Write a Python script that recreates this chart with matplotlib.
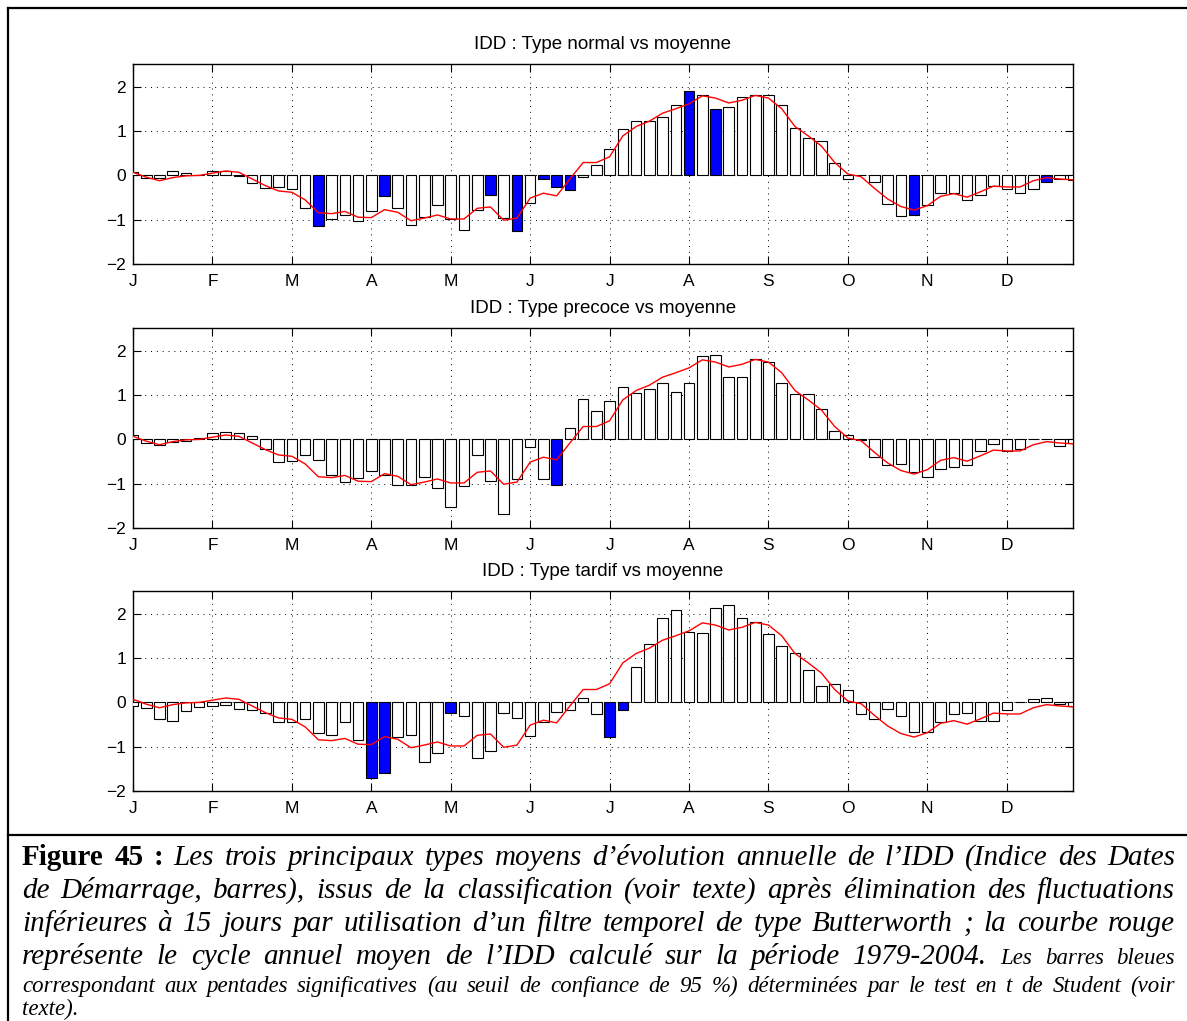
import numpy as np
import matplotlib
matplotlib.use("Agg")
import matplotlib.pyplot as plt
from matplotlib.lines import Line2D

# pentad values (72 pentads, Jan -> Dec)
normal = [0.08, -0.06, -0.06, 0.09, 0.05, 0.01, 0.11, 0.10, -0.02, -0.17,
          -0.28, -0.26, -0.30, -0.74, -1.13, -0.98, -0.88, -1.03, -0.81, -0.47,
          -0.74, -1.12, -0.94, -0.67, -0.98, -1.22, -0.77, -0.44, -0.95, -1.25,
          -0.62, -0.08, -0.25, -0.33, -0.04, 0.24, 0.60, 1.04, 1.23, 1.23,
          1.31, 1.58, 1.89, 1.81, 1.50, 1.55, 1.77, 1.81, 1.80, 1.58,
          1.07, 0.85, 0.77, 0.28, -0.08, 0.02, -0.14, -0.65, -0.91, -0.89,
          -0.67, -0.39, -0.39, -0.56, -0.44, -0.23, -0.30, -0.40, -0.30, -0.14,
          -0.08, -0.10]
precoce = [0.10, -0.08, -0.12, -0.05, -0.04, 0.04, 0.15, 0.17, 0.15, 0.08,
           -0.22, -0.50, -0.48, -0.35, -0.47, -0.79, -0.95, -0.87, -0.71, -0.79,
           -1.03, -1.02, -0.84, -1.10, -1.51, -1.05, -0.35, -0.93, -1.67, -0.89,
           -0.18, -0.89, -1.02, 0.26, 0.90, 0.65, 0.86, 1.18, 1.05, 1.13,
           1.27, 1.07, 1.26, 1.88, 1.91, 1.41, 1.41, 1.81, 1.74, 1.26,
           1.02, 1.02, 0.68, 0.20, 0.09, -0.01, -0.40, -0.58, -0.55, -0.74,
           -0.84, -0.66, -0.62, -0.58, -0.26, -0.11, -0.26, -0.22, 0.02, 0.0,
           -0.14, -0.08]
tardif = [-0.08, -0.12, -0.38, -0.41, -0.19, -0.10, -0.08, -0.06, -0.15, -0.17,
          -0.23, -0.44, -0.44, -0.38, -0.69, -0.74, -0.45, -0.85, -1.69, -1.58,
          -0.78, -0.73, -1.34, -1.14, -0.23, -0.30, -1.24, -1.09, -0.23, -0.35,
          -0.75, -0.43, -0.22, -0.16, 0.10, -0.26, -0.77, -0.17, 0.80, 1.32,
          1.89, 2.08, 1.59, 1.56, 2.13, 2.20, 1.89, 1.80, 1.55, 1.26,
          1.11, 0.74, 0.36, 0.42, 0.29, -0.26, -0.38, -0.14, -0.30, -0.67,
          -0.67, -0.44, -0.26, -0.24, -0.41, -0.42, -0.18, 0.0, 0.07, 0.10,
          -0.04, -0.07]
moyenne = [0.07, -0.04, -0.12, -0.05, -0.01, 0.0, 0.05, 0.10, 0.07, -0.08,
           -0.23, -0.35, -0.38, -0.55, -0.84, -0.86, -0.81, -0.94, -0.95, -0.77,
           -0.83, -1.02, -0.96, -0.89, -0.98, -0.98, -0.74, -0.71, -1.01, -0.96,
           -0.51, -0.40, -0.46, -0.08, 0.29, 0.29, 0.42, 0.89, 1.10, 1.22,
           1.40, 1.50, 1.61, 1.79, 1.74, 1.63, 1.69, 1.80, 1.74, 1.50,
           1.10, 0.89, 0.66, 0.29, 0.03, -0.03, -0.29, -0.53, -0.70, -0.78,
           -0.68, -0.47, -0.41, -0.49, -0.37, -0.24, -0.26, -0.26, -0.12, -0.05,
           -0.08, -0.10]

# significant pentads (blue bars)
sig_normal = [14, 19, 27, 29, 31, 32, 33, 42, 44, 59, 69]
sig_precoce = [32]
sig_tardif = [18, 19, 24, 36, 37]

titles = ["IDD : Type normal vs moyenne", "IDD : Type precoce vs moyenne",
          "IDD : Type tardif vs moyenne"]
months = ["J", "F", "M", "A", "M", "J", "J", "A", "S", "O", "N", "D"]

W, H = 1187, 1021
fig = plt.figure(figsize=(W / 100, H / 100), dpi=100)
plt.rcParams["font.family"] = ["Liberation Sans", "DejaVu Sans"]

panels = [(normal, sig_normal), (precoce, sig_precoce), (tardif, sig_tardif)]
tops = [64.3, 328.3, 591.3]
x = np.arange(len(moyenne))

for (vals, sig), top, title in zip(panels, tops, titles):
    ax = fig.add_axes([133 / W, 1 - (top + 200) / H, 940 / W, 200 / H])
    colors = ["#0000ff" if i in sig else "white" for i in range(len(vals))]
    ax.bar(x, vals, width=0.8, color=colors, edgecolor="black", linewidth=0.8, zorder=3)
    ax.plot(x, moyenne, color="red", linewidth=1.0, zorder=4)
    ax.set_xlim(0, 71)
    ax.set_ylim(-2, 2.5)
    ax.set_xticks(np.arange(0, 72, 6))
    ax.set_xticklabels(months)
    ax.set_yticks([-2, -1, 0, 1, 2])
    ax.grid(True, color="black", linestyle=(0, (1, 5)), linewidth=0.7, zorder=0)
    ax.tick_params(direction="in", length=5.5, width=0.8, labelsize=12.5,
                   top=True, right=True, pad=5)
    ax.tick_params(axis="x", pad=7)
    for s in ax.spines.values():
        s.set_linewidth(1.0)
    ax.set_title(title, fontsize=13.5, pad=11)

# outer frame of the figure
fig.add_artist(Line2D([8 / W, 1], [1 - 8 / H, 1 - 8 / H], color="black", linewidth=1.6, transform=fig.transFigure))
fig.add_artist(Line2D([8 / W, 8 / W], [1 - 8 / H, 0], color="black", linewidth=1.6, transform=fig.transFigure))
fig.add_artist(Line2D([8 / W, 1], [1 - 835 / H, 1 - 835 / H], color="black", linewidth=1.6, transform=fig.transFigure))

renderer = fig.canvas.get_renderer()
big, small = 21.0, 16.5


def words(text, size, weight="normal", style="italic"):
    return [(w, size, weight, style) for w in text.split()]


def place_line(items, y_px, justify=True, x0=22, x1=1175):
    texts = []
    for w, size, weight, style in items:
        t = fig.text(0, 1 - y_px / H, w, fontsize=size, fontweight=weight, fontstyle=style,
                     family=["Liberation Serif", "DejaVu Serif"], va="baseline", ha="left")
        texts.append(t)
    widths = [t.get_window_extent(renderer).width for t in texts]
    if justify:
        gap = (x1 - x0 - sum(widths)) / (len(texts) - 1)
    else:
        gap = items[0][1] * 100 / 72 * 0.25
    pos = x0
    for t, w in zip(texts, widths):
        t.set_x(pos / W)
        pos += w + gap


caption = [
    (words("Figure 45 :", big, "bold", "normal")
     + words("Les trois principaux types moyens d’évolution annuelle de l’IDD (Indice des Dates", big), 865, True),
    (words("de Démarrage, barres), issus de la classification (voir texte) après élimination des fluctuations", big), 898, True),
    (words("inférieures à 15 jours par utilisation d’un filtre temporel de type Butterworth ; la courbe rouge", big), 931, True),
    (words("représente le cycle annuel moyen de l’IDD calculé sur la période 1979-2004.", big)
     + words("Les barres bleues", small), 964, True),
    (words("correspondant aux pentades significatives (au seuil de confiance de 95 %) déterminées par le test en t  de Student (voir", small), 992, True),
    (words("texte).", small), 1015, False),
]
for items, y_px, just in caption:
    place_line(items, y_px, just)

fig.savefig("out.png", dpi=100)
